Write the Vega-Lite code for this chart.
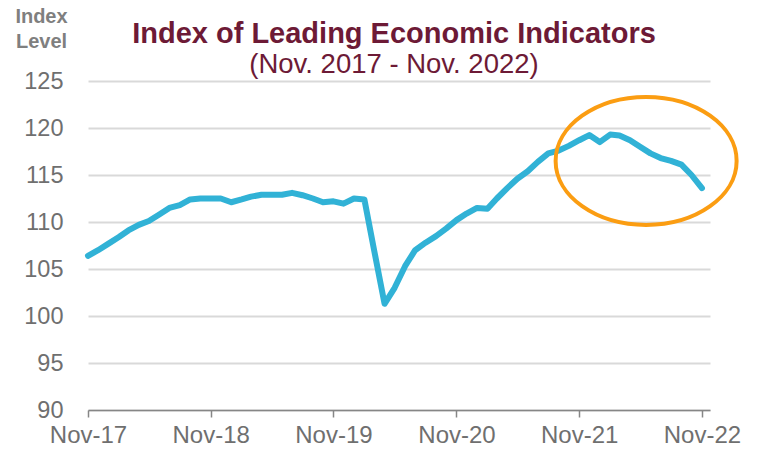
{
  "$schema": "https://vega.github.io/schema/vega-lite/v6.json",
  "width": 622,
  "height": 329,
  "autosize": {"type": "none"},
  "padding": {"left": 88, "top": 81, "right": 53, "bottom": 46},
  "background": "white",
  "config": {"view": {"stroke": null}, "font": "Liberation Sans"},
  "title": {
    "text": "Index of Leading Economic Indicators",
    "subtitle": "(Nov. 2017 - Nov. 2022)",
    "fontSize": 29,
    "fontWeight": "bold",
    "color": "#6D1A36",
    "subtitleColor": "#6D1A36",
    "subtitleFontSize": 27.5,
    "font": "Liberation Sans",
    "subtitleFont": "Liberation Sans",
    "anchor": "middle",
    "frame": "group",
    "offset": 0,
    "dx": -5,
    "dy": 72,
    "subtitlePadding": 2
  },
  "datasets": {
    "lei": [
      {"date": "2017-11-01", "value": 106.4},
      {"date": "2017-12-01", "value": 107.0},
      {"date": "2018-01-01", "value": 107.7},
      {"date": "2018-02-01", "value": 108.4},
      {"date": "2018-03-01", "value": 109.1},
      {"date": "2018-04-01", "value": 109.7},
      {"date": "2018-05-01", "value": 110.1},
      {"date": "2018-06-01", "value": 110.8},
      {"date": "2018-07-01", "value": 111.5},
      {"date": "2018-08-01", "value": 111.8},
      {"date": "2018-09-01", "value": 112.4},
      {"date": "2018-10-01", "value": 112.5},
      {"date": "2018-11-01", "value": 112.5},
      {"date": "2018-12-01", "value": 112.5},
      {"date": "2019-01-01", "value": 112.1},
      {"date": "2019-02-01", "value": 112.4},
      {"date": "2019-03-01", "value": 112.7},
      {"date": "2019-04-01", "value": 112.9},
      {"date": "2019-05-01", "value": 112.9},
      {"date": "2019-06-01", "value": 112.9},
      {"date": "2019-07-01", "value": 113.1},
      {"date": "2019-08-01", "value": 112.85},
      {"date": "2019-09-01", "value": 112.5},
      {"date": "2019-10-01", "value": 112.1},
      {"date": "2019-11-01", "value": 112.2},
      {"date": "2019-12-01", "value": 111.95},
      {"date": "2020-01-01", "value": 112.5},
      {"date": "2020-02-01", "value": 112.4},
      {"date": "2020-03-01", "value": 107.0},
      {"date": "2020-04-01", "value": 101.3},
      {"date": "2020-05-01", "value": 103.0},
      {"date": "2020-06-01", "value": 105.3},
      {"date": "2020-07-01", "value": 107.0},
      {"date": "2020-08-01", "value": 107.8},
      {"date": "2020-09-01", "value": 108.5},
      {"date": "2020-10-01", "value": 109.3},
      {"date": "2020-11-01", "value": 110.2},
      {"date": "2020-12-01", "value": 110.9},
      {"date": "2021-01-01", "value": 111.5},
      {"date": "2021-02-01", "value": 111.4},
      {"date": "2021-03-01", "value": 112.5},
      {"date": "2021-04-01", "value": 113.6},
      {"date": "2021-05-01", "value": 114.6},
      {"date": "2021-06-01", "value": 115.4},
      {"date": "2021-07-01", "value": 116.4},
      {"date": "2021-08-01", "value": 117.3},
      {"date": "2021-09-01", "value": 117.6},
      {"date": "2021-10-01", "value": 118.1},
      {"date": "2021-11-01", "value": 118.7},
      {"date": "2021-12-01", "value": 119.25},
      {"date": "2022-01-01", "value": 118.5},
      {"date": "2022-02-01", "value": 119.3},
      {"date": "2022-03-01", "value": 119.2},
      {"date": "2022-04-01", "value": 118.7},
      {"date": "2022-05-01", "value": 118.0},
      {"date": "2022-06-01", "value": 117.3},
      {"date": "2022-07-01", "value": 116.8},
      {"date": "2022-08-01", "value": 116.5},
      {"date": "2022-09-01", "value": 116.1},
      {"date": "2022-10-01", "value": 115.0},
      {"date": "2022-11-01", "value": 113.6}
    ],
    "note": [{"date": "2022-05-19", "value": 116.5}]
  },
  "layer": [
    {
      "data": {"name": "lei"},
      "mark": {"type": "line", "color": "#31B2D6", "strokeWidth": 6, "strokeCap": "round", "strokeJoin": "round"},
      "encoding": {
        "x": {
          "field": "date",
          "type": "temporal",
          "scale": {
            "type": "utc",
            "domain": [
              {"year": 2017, "month": 11, "date": 1, "utc": true},
              {"year": 2022, "month": 11, "date": 25, "utc": true}
            ]
          },
          "axis": {
            "values": [
              {"year": 2017, "month": 11, "date": 1, "utc": true},
              {"year": 2018, "month": 11, "date": 1, "utc": true},
              {"year": 2019, "month": 11, "date": 1, "utc": true},
              {"year": 2020, "month": 11, "date": 1, "utc": true},
              {"year": 2021, "month": 11, "date": 1, "utc": true},
              {"year": 2022, "month": 11, "date": 1, "utc": true}
            ],
            "labelExpr": "utcFormat(datum.value, '%b-%y')",
            "title": null,
            "grid": false,
            "domainColor": "#868686",
            "domainWidth": 1.5,
            "tickColor": "#868686",
            "tickWidth": 1.5,
            "tickSize": 7,
            "labelFontSize": 24,
            "labelColor": "#6F6F6F",
            "labelPadding": 6,
            "labelOverlap": false,
            "labelFlush": false,
            "labelBound": false
          }
        },
        "y": {
          "field": "value",
          "type": "quantitative",
          "scale": {"domain": [90, 125], "nice": false, "zero": false},
          "axis": {
            "values": [90, 95, 100, 105, 110, 115, 120, 125],
            "title": ["Index", "Level"],
            "titleAngle": 0,
            "titleX": -47,
            "titleY": -59,
            "titleAlign": "center",
            "titleBaseline": "alphabetic",
            "titleFontSize": 20,
            "titleFontWeight": "bold",
            "titleColor": "#7F7F7F",
            "titleLineHeight": 25,
            "domain": false,
            "ticks": false,
            "tickSize": 0,
            "labelPadding": 25,
            "labelFontSize": 23.5,
            "labelColor": "#6F6F6F",
            "grid": true,
            "gridColor": "#D9D9D9",
            "gridWidth": 2
          }
        }
      }
    },
    {
      "data": {"name": "note"},
      "mark": {
        "type": "point",
        "shape": "M-1,0 C-1,-0.3905 -0.5523,-0.707 0,-0.707 C0.5523,-0.707 1,-0.3905 1,0 C1,0.3905 0.5523,0.707 0,0.707 C-0.5523,0.707 -1,0.3905 -1,0 Z",
        "size": 32761,
        "filled": false,
        "stroke": "#FB9D12",
        "strokeWidth": 4,
        "opacity": 1
      },
      "encoding": {
        "x": {"field": "date", "type": "temporal"},
        "y": {"field": "value", "type": "quantitative"}
      }
    }
  ]
}
